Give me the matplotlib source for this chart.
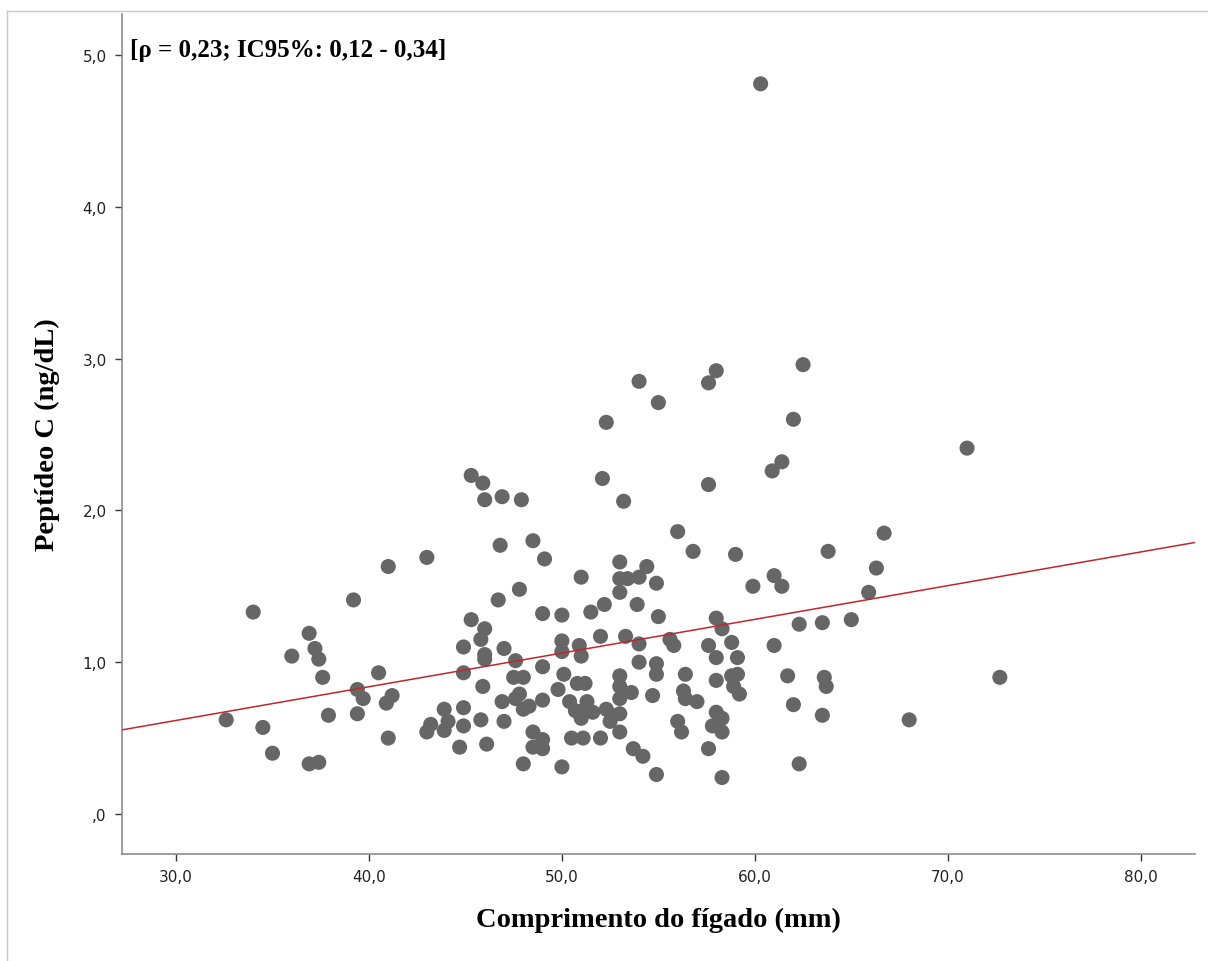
import matplotlib
matplotlib.use("Agg")
import matplotlib.pyplot as plt
import numpy as np
from matplotlib.lines import Line2D

# comprimento do figado (mm) / peptideo C (ng/dL)
comprimento = [
    34.0, 36.9, 37.2, 37.4, 36.0, 37.6, 32.6, 34.5, 35.0, 36.9, 37.4, 37.9,
    39.2, 41.0, 43.0, 40.5, 39.4, 39.7, 39.4, 40.9, 41.2, 41.0, 43.0, 43.2,
    43.9, 44.1, 43.9, 44.9, 44.7, 44.9, 44.9, 44.9, 45.3,
    45.3, 45.9, 46.0, 46.9, 47.9, 46.8, 46.7, 47.8, 46.0, 45.8, 46.0, 46.0,
    47.0, 45.9, 47.5, 46.9, 47.6, 45.8, 47.0, 46.1, 48.0,
    48.5, 49.1, 53.0, 54.4, 51.0, 53.0, 53.4, 54.0, 54.9, 53.0, 52.2, 53.9,
    49.0, 50.0, 51.5, 55.0, 47.6, 50.0, 50.0, 50.9, 51.0, 52.0, 53.3, 54.0,
    54.0, 54.9, 54.9, 49.0, 48.0, 50.1, 49.8, 50.8, 51.2, 53.0, 53.0, 53.6,
    53.0, 54.7, 47.8, 48.0, 48.3, 49.0, 50.4, 50.7, 51.0, 51.3, 51.6, 51.2,
    52.3, 52.6, 52.5, 53.0, 48.5, 48.5, 49.0, 49.0, 50.5, 51.1, 52.0, 53.0,
    53.7, 54.2, 50.0, 54.9,
    56.8, 59.0, 61.0, 59.9, 61.4, 58.0, 58.3, 62.3, 55.6, 55.8, 57.6, 58.8,
    58.0, 59.1, 61.0, 56.4, 58.0, 58.8, 59.1, 58.9, 59.2, 61.7, 56.3, 56.4,
    57.0, 62.0, 58.0, 58.3, 57.8, 58.3, 56.0, 56.2, 57.6, 58.3, 62.3,
    66.3, 65.9, 63.5, 65.0, 63.6, 63.7, 63.5, 68.0, 72.7, 62.0, 61.4, 60.9,
    71.0, 66.7, 63.8,
    54.0, 58.0, 57.6, 62.5, 55.0, 52.3, 52.1, 53.2, 57.6, 56.0, 60.3,
]
peptideo = [
    1.33, 1.19, 1.09, 1.02, 1.04, 0.90, 0.62, 0.57, 0.40, 0.33, 0.34, 0.65,
    1.41, 1.63, 1.69, 0.93, 0.82, 0.76, 0.66, 0.73, 0.78, 0.50, 0.54, 0.59,
    0.69, 0.61, 0.55, 0.58, 0.44, 1.10, 0.93, 0.70, 1.28,
    2.23, 2.18, 2.07, 2.09, 2.07, 1.77, 1.41, 1.48, 1.22, 1.15, 1.05, 1.02,
    1.09, 0.84, 0.90, 0.74, 0.76, 0.62, 0.61, 0.46, 0.33,
    1.80, 1.68, 1.66, 1.63, 1.56, 1.55, 1.55, 1.56, 1.52, 1.46, 1.38, 1.38,
    1.32, 1.31, 1.33, 1.30, 1.01, 1.14, 1.07, 1.11, 1.04, 1.17, 1.17, 1.12,
    1.00, 0.99, 0.92, 0.97, 0.90, 0.92, 0.82, 0.86, 0.86, 0.91, 0.84, 0.80,
    0.76, 0.78, 0.79, 0.69, 0.71, 0.75, 0.74, 0.68, 0.63, 0.74, 0.67, 0.69,
    0.69, 0.65, 0.61, 0.66, 0.54, 0.44, 0.49, 0.43, 0.50, 0.50, 0.50, 0.54,
    0.43, 0.38, 0.31, 0.26,
    1.73, 1.71, 1.57, 1.50, 1.50, 1.29, 1.22, 1.25, 1.15, 1.11, 1.11, 1.13,
    1.03, 1.03, 1.11, 0.92, 0.88, 0.91, 0.92, 0.84, 0.79, 0.91, 0.81, 0.76,
    0.74, 0.72, 0.67, 0.63, 0.58, 0.54, 0.61, 0.54, 0.43, 0.24, 0.33,
    1.62, 1.46, 1.26, 1.28, 0.90, 0.84, 0.65, 0.62, 0.90, 2.60, 2.32, 2.26,
    2.41, 1.85, 1.73,
    2.85, 2.92, 2.84, 2.96, 2.71, 2.58, 2.21, 2.06, 2.17, 1.86, 4.81,
]

# reta de ajuste
intercepto = -0.05
inclinacao = 0.0222

xticks = [30, 40, 50, 60, 70, 80]
xticklabels = ["30,0", "40,0", "50,0", "60,0", "70,0", "80,0"]
yticks = [0, 1, 2, 3, 4, 5]
yticklabels = [",0", "1,0", "2,0", "3,0", "4,0", "5,0"]

fig = plt.figure(figsize=(12.08, 9.62), dpi=100)
ax = fig.add_axes([0.101, 0.1112, 0.888, 0.8732])

ax.scatter(comprimento, peptideo, s=118, color="#666666", edgecolors="none", zorder=3)

xmin, xmax = 27.2, 82.8
xl = np.array([xmin, xmax])
ax.plot(xl, intercepto + inclinacao * xl, color="#c0262d", lw=1.1, zorder=4)

ax.set_xlim(xmin, xmax)
ax.set_ylim(-0.264, 5.27)
ax.set_xticks(xticks)
ax.set_xticklabels(xticklabels)
ax.set_yticks(yticks)
ax.set_yticklabels(yticklabels)

for s in ["top", "right"]:
    ax.spines[s].set_visible(False)
for s in ["left", "bottom"]:
    ax.spines[s].set_color("#8c8c8c")
    ax.spines[s].set_linewidth(1.2)
ax.tick_params(axis="both", direction="out", length=5, width=1, color="#333333",
               labelsize=11, labelcolor="#222222", pad=6)
for lab in ax.get_xticklabels() + ax.get_yticklabels():
    lab.set_family("DejaVu Sans")

serif = {"family": "Liberation Serif", "weight": "bold"}
ax.set_xlabel("Comprimento do fígado (mm)", fontdict=serif, fontsize=20.5, labelpad=16)
ax.set_ylabel("Peptídeo C (ng/dL)", fontdict=serif, fontsize=20.5, labelpad=16)

ax.text(0.0075, 0.958, "[ρ = 0,23; IC95%: 0,12 - 0,34]", transform=ax.transAxes,
        ha="left", va="center", fontsize=18, **serif)

# moldura da pagina
fig.add_artist(Line2D([7 / 1208, 7 / 1208], [0, 1 - 12 / 962], transform=fig.transFigure,
                      color="#c8c8c8", lw=1))
fig.add_artist(Line2D([7 / 1208, 1], [1 - 12 / 962, 1 - 12 / 962], transform=fig.transFigure,
                      color="#c8c8c8", lw=1))

fig.savefig("out.png", dpi=100)
